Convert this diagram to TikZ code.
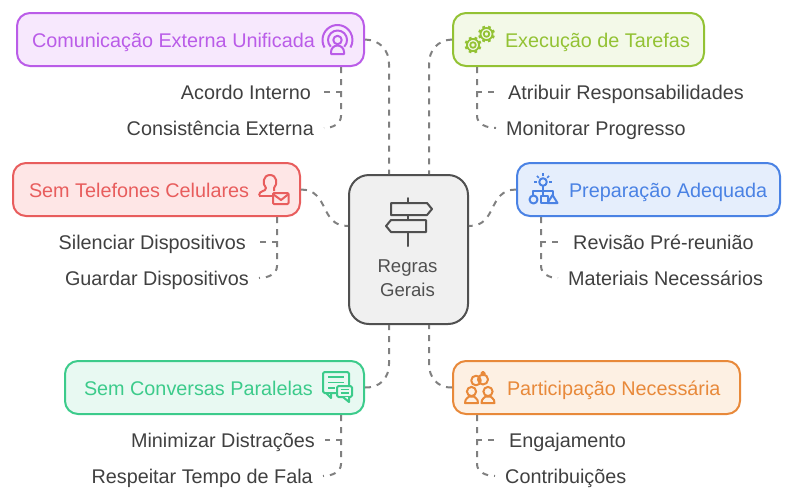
\documentclass[tikz,border=0pt]{standalone}
\usepackage{fontspec}
\setmainfont{Liberation Sans}
\usetikzlibrary{positioning}
\usetikzlibrary{calc}
\definecolor{purple}{RGB}{186,92,232}
\definecolor{purplefill}{RGB}{247,232,253}
\definecolor{green}{RGB}{147,194,52}
\definecolor{greenfill}{RGB}{243,249,232}
\definecolor{red}{RGB}{232,93,93}
\definecolor{redfill}{RGB}{254,230,230}
\definecolor{blue}{RGB}{74,130,228}
\definecolor{bluefill}{RGB}{229,238,252}
\definecolor{emerald}{RGB}{60,203,139}
\definecolor{emeraldfill}{RGB}{232,249,242}
\definecolor{orange}{RGB}{232,137,58}
\definecolor{orangefill}{RGB}{253,240,227}
\definecolor{ink}{RGB}{64,64,64}
\definecolor{slate}{RGB}{80,80,80}
\definecolor{link}{RGB}{128,128,128}
\tikzset{
  box/.style={draw=#1, fill=#1fill, text=#1, line width=2pt, rounded corners=13pt, inner sep=0pt,
    minimum height=53pt, align=flush left, text height=15.5pt, text depth=0.5pt, font=\fontsize{19.8}{23}\selectfont},
  sub/.style={text=ink, inner ysep=0pt, inner xsep=10pt, text height=15pt, text depth=1pt, font=\fontsize{19.8}{23}\selectfont},
  dashlink/.style={draw=link, line width=2pt, dash pattern=on 6pt off 6pt},
  icon/.style={draw=#1, line width=2pt, line join=round},
  pics/gear/.style={code={
    \draw[icon=green, line width=1.8pt] (0,0) circle (6pt) (0,0) circle (2.8pt);
    \foreach \a in {0,45,...,315}
      \draw[green, line width=2.8pt] (\a+22:5.5pt) -- (\a+22:8.4pt);
  }}
}
\begin{document}
\begin{tikzpicture}[x=1pt, y=-1pt]
    \useasboundingbox (0,0) rectangle (794,499);

    % centre
    \node[draw=slate, fill=black!6, line width=2pt, rounded corners=20pt, minimum width=119pt, minimum height=149pt, inner sep=0pt] (rules) at (408.5,249.5) {};
    \node[text=slate, align=center, inner sep=0pt, font=\fontsize{18.6}{24}\selectfont] (rulestext) at (407.5,278) {Regras\\Gerais};

    % main boxes
    \node[box=purple, text width=347pt] (comm) at (190.5,39.5) {\hspace*{15pt}Comunicação Externa Unificada};
    \node[box=green, text width=251pt] (exec) at (578.5,39.5) {\hspace*{52pt}Execução de Tarefas};
    \node[box=red, text width=287pt] (phones) at (156.5,189.5) {\hspace*{16pt}Sem Telefones Celulares};
    \node[box=blue, text width=263pt] (prep) at (648.5,189.5) {\hspace*{52pt}Preparação Adequada};
    \node[box=emerald, text width=299pt] (chat) at (214.5,387.5) {\hspace*{19pt}Sem Conversas Paralelas};
    \node[box=orange, text width=287pt] (part) at (596.5,387.5) {\hspace*{54pt}Participação Necessária};

    % sub items
    \node[sub, anchor=east] (agree) at (321,92) {Acordo Interno};
    \node[sub, anchor=east] (consist) at (324,128) {Consistência Externa};
    \node[sub, anchor=west] (assign) at (498,92) {Atribuir Responsabilidades};
    \node[sub, anchor=west] (monitor) at (496,128) {Monitorar Progresso};
    \node[sub, anchor=east] (silence) at (256,242) {Silenciar Dispositivos};
    \node[sub, anchor=east] (store) at (259,278) {Guardar Dispositivos};
    \node[sub, anchor=west] (review) at (563,242) {Revisão Pré-reunião};
    \node[sub, anchor=west] (material) at (558,278) {Materiais Necessários};
    \node[sub, anchor=east] (reduce) at (325,440) {Minimizar Distrações};
    \node[sub, anchor=east] (respect) at (323,476) {Respeitar Tempo de Fala};
    \node[sub, anchor=west] (engage) at (499,440) {Engajamento};
    \node[sub, anchor=west] (input) at (495,476) {Contribuições};

    % links to the centre
    \coordinate (rulesnw) at (389,174);
    \coordinate (rulesne) at (429,174);
    \coordinate (rulessw) at (389,325);
    \coordinate (rulesse) at (429,325);
    \coordinate (rulesw) at (348,226);
    \coordinate (rulese) at (469,226);
    \draw[dashlink] (comm.east) .. controls (380,40) and (389,50) .. (389,64) -- (rulesnw);
    \draw[dashlink] (exec.west) .. controls (438,40) and (429,50) .. (429,64) -- (rulesne);
    \draw[dashlink] (phones.east) .. controls (330,190) and (319,226) .. (rulesw);
    \draw[dashlink] (prep.west) .. controls (487,190) and (498,226) .. (rulese);
    \draw[dashlink] (chat.east) .. controls (380,388) and (389,378) .. (389,364) -- (rulessw);
    \draw[dashlink] (part.west) .. controls (438,388) and (429,378) .. (429,364) -- (rulesse);

    % links to the sub items
    \foreach \owner/\x/\first/\second/\side in {comm/341/agree/consist/east, exec/477/assign/monitor/west, phones/277/silence/store/east,
        prep/541/review/material/west, chat/341/reduce/respect/east, part/477/engage/input/west}
    {
      \coordinate (dropx) at (\x,0);
      \coordinate (drop) at (\owner.south -| dropx);
      \draw[dashlink] (drop) -- (drop |- \first.\side) -- (\first.\side);
      \draw[dashlink] (drop) -- ($(drop |- \second.\side)+(0,-12)$) .. controls +(0,8) and ($(\second.\side)!0.5!(drop |- \second.\side)$) .. (\second.\side);
    }

    % broadcast icon
    \draw[icon=purple] (330.8,46.7) arc (225:-45:9.5pt);
    \draw[icon=purple] (324.5,47.5) arc (210:-30:15pt);
    \draw[icon=purple] (337.5,40) circle (4.2pt);
    \draw[icon=purple] (331,54) -- (331,52) arc (180:0:6.5pt) -- (344,54) -- cycle;

    % gears
    \pic at (473,45) {gear};
    \pic at (486.5,34) {gear};

    % user and mail
    \draw[icon=red] (259,195.5) .. controls (259,190) and (266,192) .. (266,188) .. controls (262,184) and (263,175) .. (270,175)
       .. controls (277,175) and (278,184) .. (274,188) -- (274,191);
    \draw[icon=red] (259,195.5) -- (272,195.5);
    \draw[icon=red, fill=redfill, rounded corners=1pt] (273,193) rectangle (288.5,204);
    \draw[icon=red] (273.5,194.5) -- (281,200) -- (288,194.5);

    % bulb and shapes
    \draw[icon=blue] (543,182) circle (3.8pt);
    \foreach \a in {0,45,90,135,180}
      \draw[blue, line width=1.6pt] (543,182)++(\a:6pt) -- ++(\a:2.6pt);
    \draw[icon=blue] (543,186) -- (543,196) (533,195.5) -- (533,191) -- (553,191) -- (553,195);
    \draw[icon=blue] (533.5,199.5) circle (4pt);
    \draw[icon=blue] (540.5,196) rectangle (547.5,203);
    \draw[icon=blue] (552.5,195) -- (557.5,203) -- (547.5,203) -- cycle;

    % chat bubbles
    \draw[icon=emerald, rounded corners=1.5pt] (323,372) rectangle (349,393);
    \draw[icon=emerald] (331,393) -- (331,398) -- (326,393);
    \foreach \y/\xa in {377/344, 382.5/344, 388/335}
      \draw[emerald, line width=1.6pt] (328,\y) -- (\xa,\y);
    \draw[icon=emerald, fill=emeraldfill, rounded corners=1.5pt] (337,386) rectangle (352,397);
    \draw[icon=emerald, fill=emeraldfill] (343,397) -- (349,402) -- (349,397);
    \foreach \y in {389.5,393}
      \draw[emerald, line width=1.3pt] (340.5,\y) -- (349,\y);

    % rings and people
    \draw[icon=orange] (476,380.5) circle (4.8pt) (483,379.5) circle (5pt) (483,373.5) circle (1.8pt);
    \foreach \x in {471.5,488}
    {
      \draw[icon=orange] (\x,391.5) circle (4.6pt);
      \draw[icon=orange] (\x-6.5,403) .. controls (\x-6.5,398) and (\x-3,398) .. (\x-2.5,396.5) -- (\x+2.5,396.5)
         .. controls (\x+3,398) and (\x+6.5,398) .. (\x+6.5,403) -- cycle;
    }

    % signpost
    \draw[icon=slate, line cap=round] (408,198) -- (408,203) (408,215) -- (408,219) (408,232) -- (408,246);
    \draw[icon=slate] (391,203) -- (427,203) -- (432,209) -- (427,215) -- (391,215) -- cycle;
    \draw[icon=slate] (426,220) -- (391,220) -- (386,226) -- (391,232) -- (426,232) -- cycle;
\end{tikzpicture}
\end{document}
